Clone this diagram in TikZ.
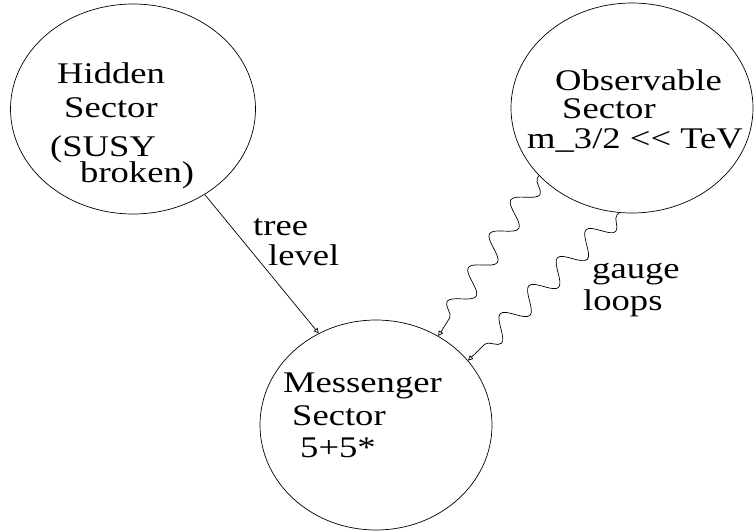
\documentclass[tikz,border=0pt]{standalone}
\usepackage{fontspec}
\setmainfont[FakeStretch=1.22]{Liberation Serif}
\usetikzlibrary{shapes.geometric,arrows.meta,decorations.pathmorphing}
\begin{document}
\begin{tikzpicture}[x=1pt,y=-1pt,
  sector/.style={draw,ellipse,line width=0.7pt,minimum width=245pt,minimum height=210pt,inner sep=0pt},
  txt/.style={anchor=base west,inner sep=0pt,font=\fontsize{30}{34}\selectfont},
  conn/.style={line width=0.7pt,-{Triangle[open,length=5pt,width=5pt]}},
  wave/.style={conn,decorate,decoration={snake,segment length=40pt,amplitude=11pt,pre length=3pt,post length=6pt}}]
\useasboundingbox (0,0) rectangle (754,531);
% sectors
\node[sector] (hid) at (133,109) {};
\node[sector,minimum width=242pt] (obs) at (632,108) {};
\node[sector,minimum width=232pt] (mes) at (376,425) {};
% texts
\node[txt] (h1) at (57,83) {Hidden};
\node[txt] (h2) at (64,117) {Sector};
\node[txt] (h3) at (50,156) {(SUSY};
\node[txt] (h4) at (80,182) {broken)};
\node[txt] (o1) at (555,90) {Observable};
\node[txt] (o2) at (562,118) {Sector};
\node[txt] (o3) at (527,148) {m\_3/2 <{}< TeV};
\node[txt] (m1) at (283,392) {Messenger};
\node[txt] (m2) at (292,425) {Sector};
\node[txt] (m3) at (300,457) {5+5*};
\node[txt] (t1) at (253,235) {tree};
\node[txt] (t2) at (268,265) {level};
\node[txt] (g1) at (592,278) {gauge};
\node[txt] (g2) at (583,310) {loops};
% connectors
\draw[conn] (hid.-50) -- (mes.122);
\draw[wave] (obs.216) -- (mes.55);
\draw[wave] (obs.263) -- (mes.35);
\end{tikzpicture}
\end{document}
